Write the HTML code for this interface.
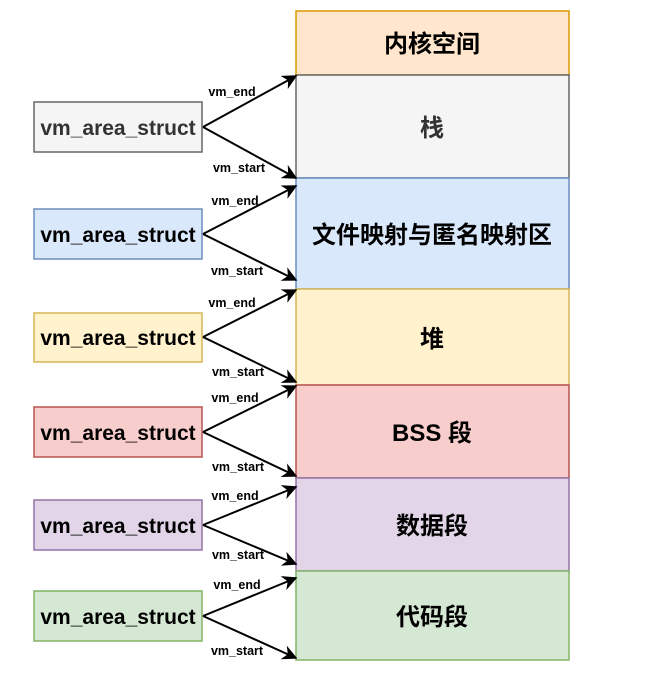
<!DOCTYPE html>
<html><head><meta charset="utf-8"><style>
html,body{margin:0;padding:0;background:#fff;}
svg{display:block;}
.t{font-family:"Liberation Sans","Noto Sans CJK SC",sans-serif;font-weight:bold;}
.b{font-size:21px;}
.c{font-size:24px;}
.l{font-size:12.5px;font-family:"Liberation Sans",sans-serif;font-weight:bold;}
</style></head><body>
<svg width="647" height="680" viewBox="0 0 647 680" xmlns="http://www.w3.org/2000/svg">
<defs><marker id="a" viewBox="0 0 10 10" refX="9" refY="5" markerWidth="15" markerHeight="15" markerUnits="userSpaceOnUse" orient="auto"><path d="M0,0 L10,5 L0,10 L3,5z" fill="#000"/></marker></defs>
<g stroke-width="1.5">
<rect x="296" y="11" width="273" height="64" fill="#ffe6cc" stroke="#d79b00"/>
<rect x="296" y="75" width="273" height="103" fill="#f5f5f5" stroke="#666"/>
<rect x="296" y="178" width="273" height="111" fill="#dae8fc" stroke="#6c8ebf"/>
<rect x="296" y="289" width="273" height="96" fill="#fff2cc" stroke="#d6b656"/>
<rect x="296" y="385" width="273" height="93" fill="#f8cecc" stroke="#b85450"/>
<rect x="296" y="478" width="273" height="93" fill="#e1d5e7" stroke="#9673a6"/>
<rect x="296" y="571" width="273" height="89" fill="#d5e8d4" stroke="#82b366"/>
<rect x="34" y="102" width="168" height="50" fill="#f5f5f5" stroke="#666"/>
<rect x="34" y="209" width="168" height="50" fill="#dae8fc" stroke="#6c8ebf"/>
<rect x="34" y="313" width="168" height="49" fill="#fff2cc" stroke="#d6b656"/>
<rect x="34" y="407" width="168" height="50" fill="#f8cecc" stroke="#b85450"/>
<rect x="34" y="500" width="168" height="50" fill="#e1d5e7" stroke="#9673a6"/>
<rect x="34" y="591" width="168" height="50" fill="#d5e8d4" stroke="#82b366"/>
</g>
<g stroke="#000" stroke-width="2" fill="none" marker-end="url(#a)">
<path d="M203,127 L296,76"/><path d="M203,127 L296,178"/>
<path d="M203,234 L296,186"/><path d="M203,234 L296,280"/>
<path d="M203,337 L296,290"/><path d="M203,337 L296,382"/>
<path d="M203,432 L296,386"/><path d="M203,432 L296,476"/>
<path d="M203,525 L296,487"/><path d="M203,525 L296,564"/>
<path d="M203,616 L296,578"/><path d="M203,616 L296,658"/>
</g>
<g class="t b" text-anchor="middle">
<text x="118" y="135" fill="#333">vm_area_struct</text>
<text x="118" y="242">vm_area_struct</text>
<text x="118" y="345">vm_area_struct</text>
<text x="118" y="440">vm_area_struct</text>
<text x="118" y="533">vm_area_struct</text>
<text x="118" y="624">vm_area_struct</text>
</g>
<g class="t c" text-anchor="middle">
<text x="432" y="52">内核空间</text>
<text x="432" y="136" fill="#333">栈</text>
<text x="432" y="243">文件映射与匿名映射区</text>
<text x="432" y="347">堆</text>
<text x="432" y="441">BSS 段</text>
<text x="432" y="534">数据段</text>
<text x="432" y="625">代码段</text>
</g>
<g class="l" text-anchor="middle">
<text x="232" y="96">vm_end</text><text x="239" y="172">vm_start</text>
<text x="235" y="205">vm_end</text><text x="237" y="275">vm_start</text>
<text x="232" y="307">vm_end</text><text x="238" y="376">vm_start</text>
<text x="235" y="402">vm_end</text><text x="238" y="471">vm_start</text>
<text x="235" y="500">vm_end</text><text x="238" y="559">vm_start</text>
<text x="237" y="589">vm_end</text><text x="237" y="655">vm_start</text>
</g>
</svg>
</body></html>
